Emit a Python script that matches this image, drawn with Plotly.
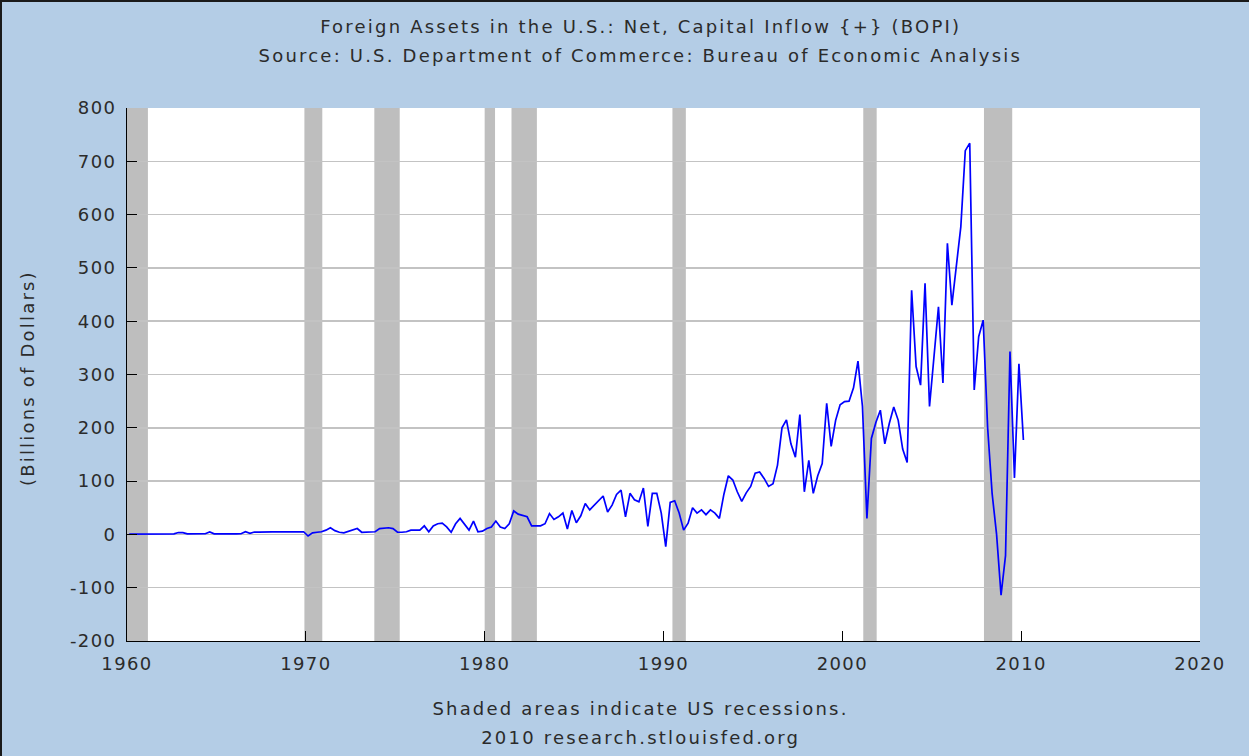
import plotly.graph_objects as go

# ---- data (quarterly, billions of dollars) ----
start_year = 1960
values_1960s = [0.5, 0.6, 0.4, 0.6, 0.6, 0.8, 0.7, 0.9, 0.8, 0.9, 1.0, 3.5, 3.4, 0.9, 0.8, 1.0,
                1.0, 1.2, 4.5, 1.0, 0.8, 0.5, 0.7, 0.9, 1.0, 1.2, 5.0, 2.0, 4.5, 4.2, 4.8, 4.5,
                4.6, 4.8, 5.0, 4.7, 5.0, 4.8, 4.6, 5.0]
values_1970s = [-3.0, 3.0, 4.0, 5.0, 8.0, 12.5, 7.0, 4.0, 3.0, 6.0, 8.0, 11.0, 4.0, 4.0, 4.0, 5.0,
                11.0, 12.0, 12.5, 11.0, 4.0, 4.0, 5.0, 8.0, 8.0, 8.0, 16.0, 5.0, 16.0, 20.0, 21.0, 14.0,
                4.0, 20.0, 30.0, 18.0, 8.0, 25.0, 5.0, 6.0]
values_1980s = [11.0, 14.0, 25.0, 14.0, 11.0, 20.0, 44.0, 38.0, 36.0, 33.0, 16.0, 16.0, 16.0, 20.0, 39.0, 28.0,
                33.0, 40.0, 10.0, 45.0, 22.0, 35.0, 58.0, 46.0, 55.0, 64.0, 72.0, 42.0, 55.0, 75.0, 83.0, 33.0,
                77.0, 65.0, 61.0, 87.0, 15.0, 77.0, 77.0, 40.0]
values_1990s = [-23.0, 60.0, 63.0, 40.0, 8.0, 21.0, 50.0, 40.0, 46.0, 37.0, 46.0, 40.0, 30.0, 75.0, 110.0, 102.0,
                80.0, 62.0, 78.0, 90.0, 115.0, 117.0, 105.0, 90.0, 95.0, 130.0, 200.0, 215.0, 170.0, 145.0, 225.0, 80.0,
                139.0, 77.0, 110.0, 133.0, 246.0, 165.0, 214.0, 243.0]
values_2000s = [249.0, 250.0, 275.0, 325.0, 240.0, 30.0, 180.0, 210.0, 233.0, 170.0, 208.0, 239.0, 214.0, 160.0, 135.0, 458.0,
                315.0, 280.0, 471.0, 240.0, 330.0, 427.0, 284.0, 546.0, 430.0, 500.0, 577.0, 720.0, 734.0, 271.0, 371.0, 402.0,
                200.0, 77.0, 0.0, -114.0, -40.0, 343.0, 106.0, 320.0]
values_2010s = [177.0]

values = values_1960s + values_1970s + values_1980s + values_1990s + values_2000s + values_2010s
# mid-quarter decimal dates
dates = [start_year + 0.125 + 0.25 * i for i in range(len(values))]

recession_starts = [1960.0, 1969.92, 1973.83, 1980.0, 1981.5, 1990.5, 2001.17, 2007.92]
recession_ends = [1961.17, 1970.92, 1975.25, 1980.58, 1982.92, 1991.25, 2001.92, 2009.5]

x_ticks = [1960, 1970, 1980, 1990, 2000, 2010, 2020]
y_ticks = [-200, -100, 0, 100, 200, 300, 400, 500, 600, 700, 800]

title_line1 = "Foreign Assets in the U.S.: Net, Capital Inflow {+} (BOPI)"
title_line2 = "Source: U.S. Department of Commerce: Bureau of Economic Analysis"
y_title = "(Billions of Dollars)"
note_line1 = "Shaded areas indicate US recessions."
note_line2 = "2010 research.stlouisfed.org"

# ---- figure ----
W, H = 1249, 756
ML, MR, MT, MB = 127, 49, 108, 115
PW, PH = W - ML - MR, H - MT - MB

def px(xp):
    return (xp - ML) / PW

def py(yp):
    return (H - MB - yp) / PH

TEXT = "#2b2b2b"
FONT = "DejaVu Sans"

fig = go.Figure()
fig.add_trace(go.Scatter(x=dates, y=values, mode="lines",
                         line=dict(color="#0000FF", width=1.7), hoverinfo="skip"))

for s, e in zip(recession_starts, recession_ends):
    fig.add_shape(type="rect", xref="x", yref="paper", x0=s, x1=e, y0=0, y1=1,
                  fillcolor="#BEBEBE", line=dict(width=0), layer="between")

# outer border (top and left edges of the image)
fig.add_shape(type="line", xref="paper", yref="paper",
              x0=px(0), x1=px(W), y0=py(0), y1=py(0),
              line=dict(color="#1a1a1a", width=4), layer="above")
fig.add_shape(type="line", xref="paper", yref="paper",
              x0=px(0), x1=px(0), y0=py(H), y1=py(0),
              line=dict(color="#1a1a1a", width=4), layer="above")

cx = px(640)
for txt, yy in [(title_line1, 27), (title_line2, 56), (note_line1, 708), (note_line2, 737)]:
    fig.add_annotation(text=txt, x=cx, y=py(yy), xref="paper", yref="paper",
                       showarrow=False, xanchor="center", yanchor="middle",
                       font=dict(family=FONT, size=18, color=TEXT))
fig.add_annotation(text=y_title, x=px(27), y=py(378), xref="paper", yref="paper",
                   showarrow=False, xanchor="center", yanchor="middle", textangle=-90,
                   font=dict(family=FONT, size=18, color=TEXT))

fig.update_layout(
    width=W, height=H,
    margin=dict(l=ML, r=MR, t=MT, b=MB, pad=0),
    paper_bgcolor="#B4CDE6", plot_bgcolor="white",
    showlegend=False,
    font=dict(family=FONT, size=18, color=TEXT),
)
fig.update_xaxes(range=[1960, 2020], tickvals=x_ticks, ticktext=[str(v) for v in x_ticks],
                 ticks="inside", ticklen=10, tickcolor="black", tickwidth=1,
                 showline=True, linecolor="black", linewidth=1,
                 showgrid=False, zeroline=False, ticklabelstandoff=6)
fig.update_yaxes(range=[-200, 800], tickvals=y_ticks, ticktext=[str(v) for v in y_ticks],
                 ticks="inside", ticklen=10, tickcolor="black", tickwidth=1,
                 showline=True, linecolor="black", linewidth=1,
                 showgrid=True, gridcolor="#C3C3C3", gridwidth=1.5,
                 zeroline=False, ticklabelstandoff=6)

fig.write_html("out.html", config={"displayModeBar": False, "staticPlot": True})

# remove default page margin and widen letter spacing to mimic the reference text
with open("out.html", "r", encoding="utf-8") as f:
    html = f.read()
css = ("<style>html,body{margin:0;padding:0;overflow:hidden;}"
       " .js-plotly-plot .plotly svg text{letter-spacing:2.2px;}"
       " .js-plotly-plot .plotly g.xtick text, .js-plotly-plot .plotly g.ytick text{letter-spacing:1.4px;}</style>")
html = html.replace("<head>", "<head>" + css, 1)
html = html.replace("<body>", '<body style="margin:0;padding:0">', 1)
with open("out.html", "w", encoding="utf-8") as f:
    f.write(html)
